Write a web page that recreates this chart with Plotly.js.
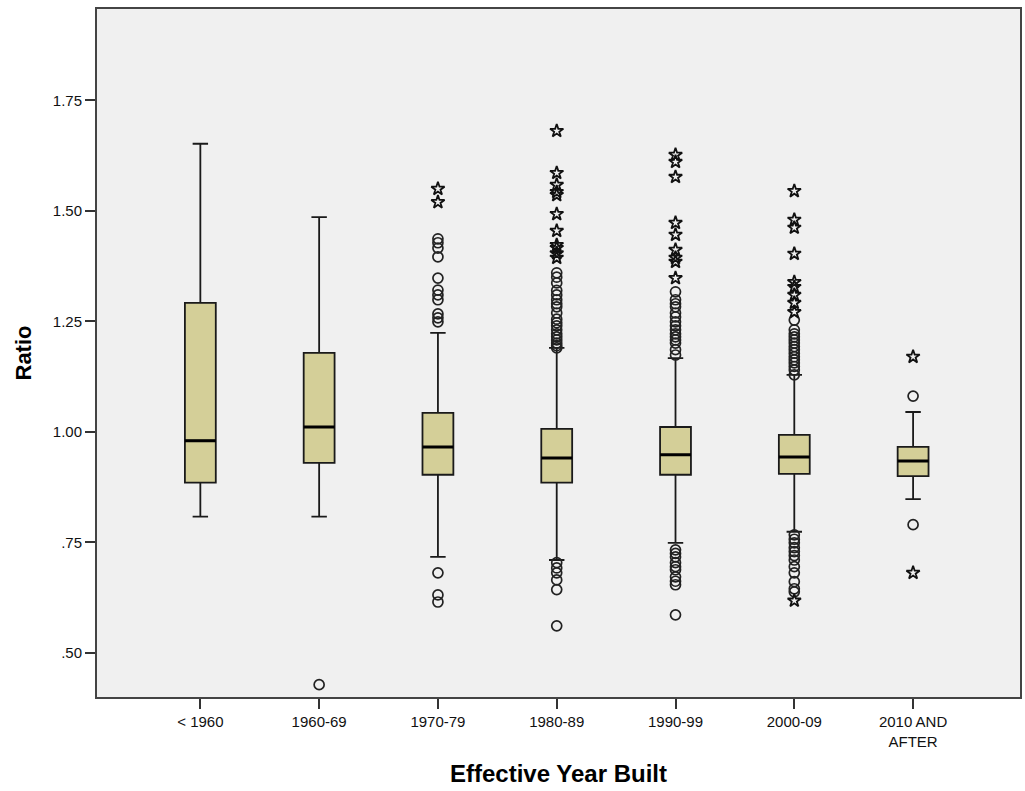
<!DOCTYPE html>
<html>
<head>
<meta charset="utf-8">
<script src="https://cdn.plot.ly/plotly-3.0.1.min.js"></script>
<style>html,body{margin:0;padding:0;background:#fff;}#chart{width:1025px;height:791px;}</style>
</head>
<body>
<div id="chart"></div>
<script>
// ---- data ----
const categories = ['< 1960', '1960-69', '1970-79', '1980-89', '1990-99', '2000-09', '2010 AND AFTER'];
const tickLabels = ['< 1960', '1960-69', '1970-79', '1980-89', '1990-99', '2000-09', '2010 AND<br>AFTER'];
const q1 = [0.885, 0.930, 0.903, 0.885, 0.903, 0.905, 0.900];
const medians = [0.980, 1.011, 0.966, 0.941, 0.948, 0.943, 0.934];
const q3 = [1.292, 1.179, 1.043, 1.007, 1.011, 0.993, 0.966];
const lowerWhisker = [0.808, 0.808, 0.717, 0.710, 0.749, 0.774, 0.848];
const upperWhisker = [1.652, 1.486, 1.224, 1.190, 1.167, 1.129, 1.045];

// outliers (circles) per category
const outliersCircle = [
  [],
  [0.428],
  [1.437, 1.428, 1.416, 1.396, 1.348, 1.321, 1.310, 1.299, 1.267, 1.258, 1.249, 0.681, 0.631, 0.615],
  [1.360, 1.350, 1.337, 1.320, 1.310, 1.299, 1.290, 1.283, 1.269, 1.255, 1.247, 1.240, 1.231, 1.222, 1.215, 1.208, 1.201, 1.195, 1.190,
   0.704, 0.692, 0.681, 0.665, 0.643, 0.561],
  [1.317, 1.299, 1.290, 1.283, 1.269, 1.260, 1.249, 1.240, 1.231, 1.222, 1.215, 1.208, 1.201, 1.186, 1.174,
   0.733, 0.725, 0.717, 0.704, 0.695, 0.688, 0.672, 0.662, 0.654, 0.586],
  [1.253, 1.231, 1.222, 1.215, 1.208, 1.201, 1.193, 1.186, 1.178, 1.170, 1.163, 1.156, 1.148, 1.140, 1.129,
   0.767, 0.757, 0.749, 0.738, 0.729, 0.720, 0.710, 0.695, 0.681, 0.661, 0.645, 0.638],
  [1.081, 0.790]
];
// extreme outliers (stars) per category
const outliersStar = [
  [],
  [],
  [1.550, 1.520],
  [1.681, 1.586, 1.559, 1.543, 1.536, 1.493, 1.455, 1.423, 1.416, 1.404, 1.394],
  [1.627, 1.611, 1.577, 1.473, 1.446, 1.412, 1.394, 1.385, 1.348],
  [1.545, 1.480, 1.462, 1.403, 1.339, 1.328, 1.310, 1.292, 1.271, 0.618],
  [1.170, 0.681]
];
const yTickVals = [0.50, 0.75, 1.00, 1.25, 1.50, 1.75];
const yTickText = ['.50', '.75', '1.00', '1.25', '1.50', '1.75'];

// ---- build ----
function flatten(groups) {
  const xs = [], ys = [];
  groups.forEach((g, i) => g.forEach(v => { xs.push(categories[i]); ys.push(v); }));
  return {xs, ys};
}
const circ = flatten(outliersCircle);
const star = flatten(outliersStar);

const boxWidth = 0.26;
const traces = [
  {
    type: 'box', x: categories, q1: q1, median: medians, q3: q3,
    lowerfence: lowerWhisker, upperfence: upperWhisker,
    width: boxWidth, whiskerwidth: 0.5,
    fillcolor: '#d4cf98', line: {color: '#1a1a1a', width: 1.8},
    boxpoints: false, hoverinfo: 'skip', showlegend: false
  },
  {
    // thick median line overlay
    type: 'box', x: categories, q1: medians, median: medians, q3: medians,
    lowerfence: medians, upperfence: medians,
    width: boxWidth, whiskerwidth: 0,
    fillcolor: 'rgba(0,0,0,0)', line: {color: '#000', width: 3},
    boxpoints: false, hoverinfo: 'skip', showlegend: false
  },
  {
    type: 'scatter', mode: 'markers', x: circ.xs, y: circ.ys,
    marker: {symbol: 'circle-open', size: 10, color: '#222', line: {width: 1.7, color: '#222'}},
    hoverinfo: 'y', showlegend: false
  },
  {
    type: 'scatter', mode: 'markers', x: star.xs, y: star.ys,
    marker: {symbol: 'star-open', size: 10, color: '#111', line: {width: 1.8, color: '#111'}},
    hoverinfo: 'y', showlegend: false
  }
];

const fontFam = 'Liberation Sans, Arial, sans-serif';
const layout = {
  width: 1025, height: 791,
  margin: {l: 97, r: 5, t: 9, b: 94},
  paper_bgcolor: '#ffffff', plot_bgcolor: '#f0f0f0',
  boxmode: 'overlay', showlegend: false,
  font: {family: fontFam, color: '#000', size: 15},
  xaxis: {
    type: 'category', categoryorder: 'array', categoryarray: categories,
    range: [-0.87, 6.90],
    tickvals: categories, ticktext: tickLabels,
    ticks: 'outside', ticklen: 10, tickwidth: 2, tickcolor: '#333',
    showgrid: false, zeroline: false,
    showline: true, linecolor: '#444', linewidth: 2, mirror: true,
    tickfont: {size: 15, family: fontFam, color: '#111'},
    title: {text: '<b>Effective Year Built</b>', font: {size: 24, family: fontFam}, standoff: 17}
  },
  yaxis: {
    range: [0.400, 1.957],
    tickvals: yTickVals, ticktext: yTickText,
    ticks: 'outside', ticklen: 10, tickwidth: 2, tickcolor: '#333',
    showgrid: false, zeroline: false,
    showline: true, linecolor: '#444', linewidth: 2, mirror: true,
    tickfont: {size: 15, family: fontFam, color: '#111'},
    title: {text: '<b>Ratio</b>', font: {size: 22, family: fontFam}, standoff: 15}
  }
};

Plotly.newPlot('chart', traces, layout, {displayModeBar: false, staticPlot: true});
</script>
</body>
</html>
